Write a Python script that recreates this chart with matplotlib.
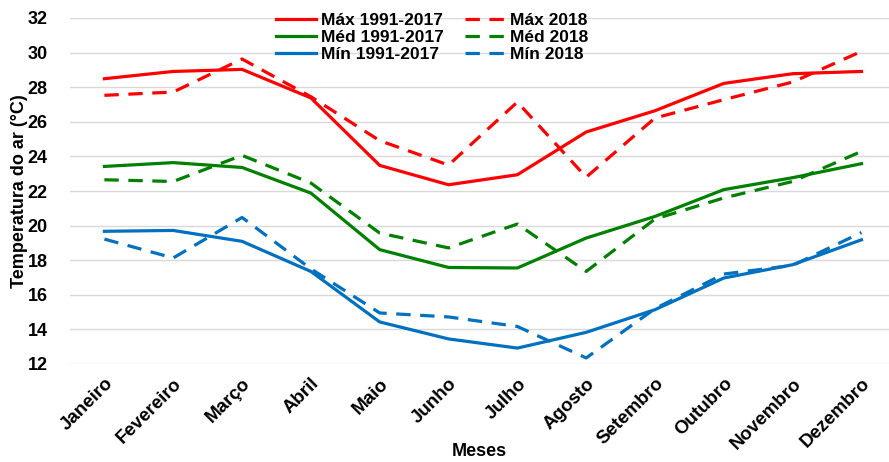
import matplotlib
matplotlib.use("Agg")
import matplotlib.pyplot as plt

plt.rcParams["font.family"] = ["Liberation Sans", "DejaVu Sans"]
plt.rcParams["font.weight"] = "bold"
plt.rcParams["axes.labelweight"] = "bold"

meses = ["Janeiro", "Fevereiro", "Março", "Abril", "Maio", "Junho", "Julho",
         "Agosto", "Setembro", "Outubro", "Novembro", "Dezembro"]

max_hist = [28.49, 28.91, 29.03, 27.38, 23.48, 22.36, 22.94, 25.41, 26.64, 28.22, 28.78, 28.91]
med_hist = [23.42, 23.64, 23.36, 21.88, 18.61, 17.58, 17.55, 19.28, 20.53, 22.08, 22.77, 23.58]
min_hist = [19.67, 19.72, 19.09, 17.35, 14.43, 13.45, 12.92, 13.83, 15.14, 16.97, 17.74, 19.18]

max_2018 = [27.53, 27.72, 29.63, 27.45, 24.91, 23.50, 27.14, 22.80, 26.22, 27.28, 28.30, 30.07]
med_2018 = [22.65, 22.55, 24.06, 22.46, 19.57, 18.71, 20.09, 17.35, 20.38, 21.60, 22.55, 24.29]
min_2018 = [19.22, 18.13, 20.47, 17.50, 14.95, 14.72, 14.17, 12.35, 15.20, 17.20, 17.70, 19.60]

vermelho = "#FF0000"
verde = "#008000"
azul = "#0070C0"

fig = plt.figure(figsize=(8.89, 4.62), dpi=100)
ax = fig.add_axes([70 / 889, 1 - 364 / 462, 819 / 889, 346 / 462])

x = range(len(meses))
lw = 2.3
tr = (4.5, 3)

ax.plot(x, max_hist, color=vermelho, lw=lw, label="Máx 1991-2017")
ax.plot(x, med_hist, color=verde, lw=lw, label="Méd 1991-2017")
ax.plot(x, min_hist, color=azul, lw=lw, label="Mín 1991-2017")
ax.plot(x, max_2018, color=vermelho, lw=lw, dashes=tr, label="Máx 2018")
ax.plot(x, med_2018, color=verde, lw=lw, dashes=tr, label="Méd 2018")
ax.plot(x, min_2018, color=azul, lw=lw, dashes=tr, label="Mín 2018")

ax.set_ylim(12, 32)
ax.set_yticks(range(12, 33, 2))
ax.set_xlim(-0.5, 11.4)
ax.set_xticks(list(x))
ax.set_xticklabels(meses, rotation=45, ha="right", rotation_mode="anchor", fontsize=13.5)
ax.tick_params(axis="y", labelsize=13, length=0, pad=16)
ax.tick_params(axis="x", length=0, pad=8)
ax.grid(axis="y", color="#D9D9D9", lw=1)
ax.set_axisbelow(True)
for s in ax.spines.values():
    s.set_visible(False)

ax.set_ylabel("Temperatura do ar (°C)", fontsize=13, labelpad=0)
ax.set_xlabel("Meses", fontsize=13, labelpad=-7)

ax.legend(loc="upper center", bbox_to_anchor=(0.442, 1.06), ncol=2, frameon=False,
          fontsize=12.5, handlelength=2.3, labelspacing=0.12, columnspacing=1.2,
          handletextpad=0.3)

fig.savefig("out.png", dpi=100)
